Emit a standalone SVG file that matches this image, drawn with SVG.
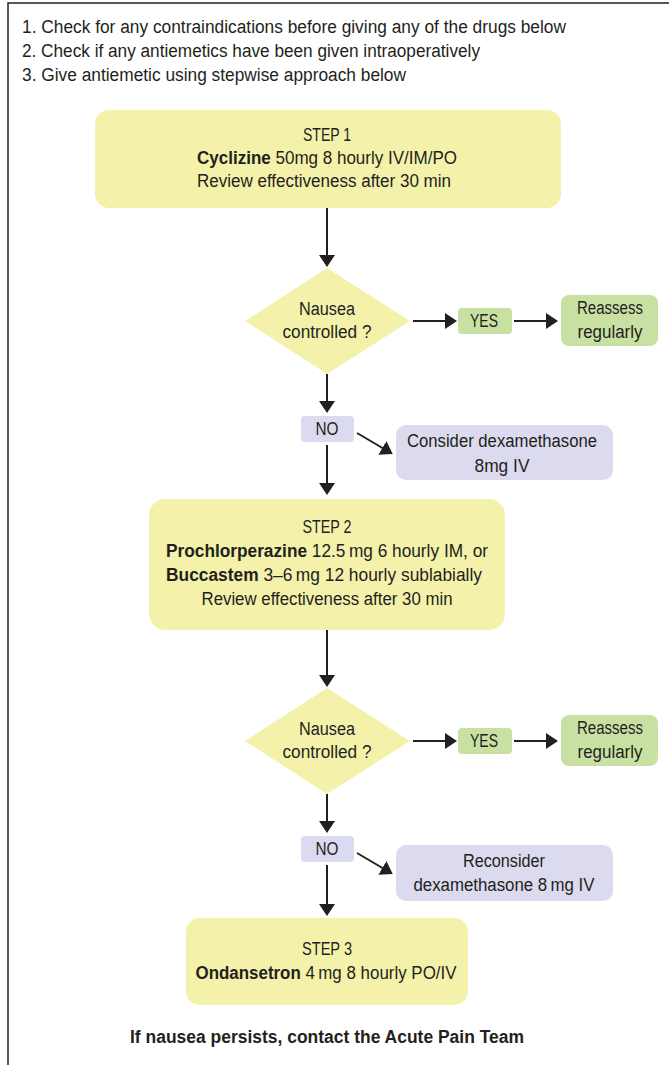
<svg xmlns="http://www.w3.org/2000/svg" width="669" height="1065" viewBox="0 0 669 1065">
<style>
text{font-family:"Liberation Sans",Arial,sans-serif;font-size:18px;fill:#231f20}
.c{text-anchor:middle}
.b{font-weight:bold}
.y{fill:#f4f2aa}
.g{fill:#c8e1a3}
.l{fill:#dcdaee}
.ln{stroke:#231f20;stroke-width:2;fill:none}
</style>
<defs>
<marker id="ah" markerUnits="userSpaceOnUse" markerWidth="12" markerHeight="16" refX="10" refY="8" orient="auto">
<path d="M0,0 L12,8 L0,16 z" fill="#231f20"/>
</marker>
</defs>
<rect width="669" height="1065" fill="#ffffff"/>
<path d="M669,3 H8 V1065" stroke="#231f20" stroke-width="1.5" fill="none"/>
<g id="header">
<text x="22" y="33" textLength="544" lengthAdjust="spacingAndGlyphs">1. Check for any contraindications before giving any of the drugs below</text>
<text x="22" y="57" textLength="458" lengthAdjust="spacingAndGlyphs">2. Check if any antiemetics have been given intraoperatively</text>
<text x="22" y="81" textLength="384" lengthAdjust="spacingAndGlyphs">3. Give antiemetic using stepwise approach below</text>
</g>
<g id="connectors">
<line class="ln" x1="327" y1="208" x2="327" y2="265" marker-end="url(#ah)"/>
<line class="ln" x1="413" y1="321" x2="455" y2="321" marker-end="url(#ah)"/>
<line class="ln" x1="514" y1="321" x2="556" y2="321" marker-end="url(#ah)"/>
<line class="ln" x1="327" y1="374" x2="327" y2="411" marker-end="url(#ah)"/>
<line class="ln" x1="327" y1="445" x2="327" y2="493" marker-end="url(#ah)"/>
<line class="ln" x1="357" y1="433" x2="391" y2="453" marker-end="url(#ah)"/>
<line class="ln" x1="327" y1="630" x2="327" y2="685" marker-end="url(#ah)"/>
<line class="ln" x1="413" y1="741" x2="455" y2="741" marker-end="url(#ah)"/>
<line class="ln" x1="514" y1="741" x2="556" y2="741" marker-end="url(#ah)"/>
<line class="ln" x1="327" y1="794" x2="327" y2="831" marker-end="url(#ah)"/>
<line class="ln" x1="327" y1="865" x2="327" y2="914" marker-end="url(#ah)"/>
<line class="ln" x1="357" y1="853" x2="391" y2="873" marker-end="url(#ah)"/>
</g>
<g id="step1">
<rect class="y" x="95" y="110" width="466" height="98" rx="14"/>
<text class="c" x="327" y="141" textLength="48" lengthAdjust="spacingAndGlyphs">STEP 1</text>
<text class="c" x="327" y="164" textLength="260" lengthAdjust="spacingAndGlyphs"><tspan class="b">Cyclizine</tspan> 50mg 8 hourly IV/IM/PO</text>
<text class="c" x="324" y="187" textLength="254" lengthAdjust="spacingAndGlyphs">Review effectiveness after 30 min</text>
</g>
<g id="decision1">
<polygon class="y" points="327,268 410,321 327,374 245,321"/>
<text class="c" x="327" y="315" textLength="56" lengthAdjust="spacingAndGlyphs">Nausea</text>
<text class="c" x="327" y="338" textLength="89" lengthAdjust="spacingAndGlyphs">controlled ?</text>
</g>
<g id="yes1">
<rect class="g" x="458" y="308" width="54" height="26" rx="4"/>
<text class="c" x="484" y="327" textLength="28" lengthAdjust="spacingAndGlyphs">YES</text>
</g>
<g id="reassess1">
<rect class="g" x="561" y="295" width="97" height="51" rx="8"/>
<text class="c" x="610" y="314" textLength="66" lengthAdjust="spacingAndGlyphs">Reassess</text>
<text class="c" x="610" y="338" textLength="65" lengthAdjust="spacingAndGlyphs">regularly</text>
</g>
<g id="no1">
<rect class="l" x="301" y="416" width="53" height="26" rx="4"/>
<text class="c" x="327" y="435" textLength="23" lengthAdjust="spacingAndGlyphs">NO</text>
</g>
<g id="dexa1">
<rect class="l" x="396" y="425" width="217" height="55" rx="10"/>
<text class="c" x="502" y="447" textLength="190" lengthAdjust="spacingAndGlyphs">Consider dexamethasone</text>
<text class="c" x="502" y="472" textLength="55" lengthAdjust="spacingAndGlyphs">8mg IV</text>
</g>
<g id="step2">
<rect class="y" x="149" y="499" width="356" height="131" rx="16"/>
<text class="c" x="327" y="533" textLength="49" lengthAdjust="spacingAndGlyphs">STEP 2</text>
<text class="c" x="327" y="557" textLength="322" lengthAdjust="spacingAndGlyphs"><tspan class="b">Prochlorperazine</tspan> 12.5&#8201;mg 6 hourly IM, or</text>
<text class="c" x="324" y="581" textLength="316" lengthAdjust="spacingAndGlyphs"><tspan class="b">Buccastem</tspan> 3–6&#8201;mg 12 hourly sublabially</text>
<text class="c" x="327" y="605" textLength="251" lengthAdjust="spacingAndGlyphs">Review effectiveness after 30 min</text>
</g>
<g id="decision2">
<polygon class="y" points="327,688 410,741 327,794 245,741"/>
<text class="c" x="327" y="735" textLength="56" lengthAdjust="spacingAndGlyphs">Nausea</text>
<text class="c" x="327" y="758" textLength="89" lengthAdjust="spacingAndGlyphs">controlled ?</text>
</g>
<g id="yes2">
<rect class="g" x="458" y="728" width="54" height="26" rx="4"/>
<text class="c" x="484" y="747" textLength="28" lengthAdjust="spacingAndGlyphs">YES</text>
</g>
<g id="reassess2">
<rect class="g" x="561" y="715" width="97" height="51" rx="8"/>
<text class="c" x="610" y="734" textLength="66" lengthAdjust="spacingAndGlyphs">Reassess</text>
<text class="c" x="610" y="758" textLength="65" lengthAdjust="spacingAndGlyphs">regularly</text>
</g>
<g id="no2">
<rect class="l" x="301" y="836" width="53" height="26" rx="4"/>
<text class="c" x="327" y="855" textLength="23" lengthAdjust="spacingAndGlyphs">NO</text>
</g>
<g id="dexa2">
<rect class="l" x="396" y="845" width="217" height="56" rx="10"/>
<text class="c" x="504" y="867" textLength="82" lengthAdjust="spacingAndGlyphs">Reconsider</text>
<text class="c" x="504" y="891" textLength="181" lengthAdjust="spacingAndGlyphs">dexamethasone 8&#8201;mg IV</text>
</g>
<g id="step3">
<rect class="y" x="186" y="918" width="282" height="87" rx="14"/>
<text class="c" x="327" y="955" textLength="50" lengthAdjust="spacingAndGlyphs">STEP 3</text>
<text class="c" x="326" y="979" textLength="261" lengthAdjust="spacingAndGlyphs"><tspan class="b">Ondansetron</tspan> 4&#8201;mg 8 hourly PO/IV</text>
</g>
<g id="footer">
<text class="c b" x="327" y="1043" textLength="394" lengthAdjust="spacingAndGlyphs">If nausea persists, contact the Acute Pain Team</text>
</g>
</svg>
